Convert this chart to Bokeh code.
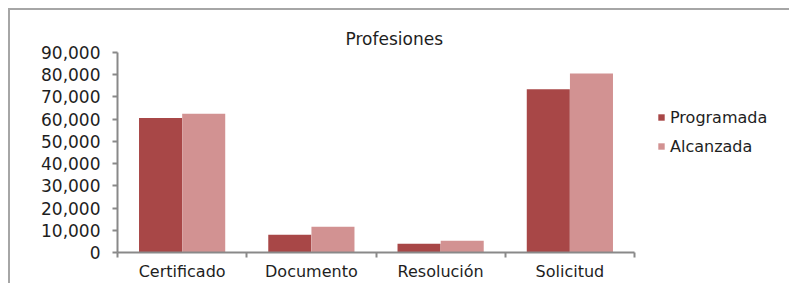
from bokeh.plotting import figure
from bokeh.models import (ColumnDataSource, FactorRange, Range1d, LinearAxis, Row,
                          FixedTicker, NumeralTickFormatter, Legend, LegendItem)
from bokeh.transform import dodge
from bokeh.embed import file_html
from bokeh.resources import INLINE

categories = ["Certificado", "Documento", "Resolución", "Solicitud"]
programada = [60500, 8000, 3900, 73500]
alcanzada = [62400, 11600, 5300, 80500]
y_ticks = [0, 10000, 20000, 30000, 40000, 50000, 60000, 70000, 80000, 90000]
series_names = ["Programada", "Alcanzada"]
title_text = "Profesiones"

FONT = "DejaVu Sans"
TXT = "#1e1e1e"
AXC = "#898989"
DARK = "#A84747"
LIGHT = "#D29292"

src = ColumnDataSource(dict(cats=categories, prog=programada, alc=alcanzada))
xr = FactorRange(*categories, range_padding=0)
yr = Range1d(0, 90000)

p = figure(x_range=xr, y_range=yr,
           width=634, height=273, output_backend="svg", toolbar_location=None,
           x_axis_location=None, title=title_text,
           min_border_left=107, min_border_right=10, min_border_top=42, min_border_bottom=29)
p.styles = {"flex-shrink": "0"}
p.xgrid.visible = False
p.ygrid.visible = False
p.outline_line_color = None
p.background_fill_color = "white"
p.border_fill_color = "white"

p.title.align = "left"
p.title.text_font = FONT
p.title.text_font_size = "17px"
p.title.text_font_style = "normal"
p.title.text_color = TXT
p.title.offset = 228
p.title.standoff = 7

p.vbar(x=dodge("cats", -0.167, range=xr), top="prog", width=0.333,
       source=src, fill_color=DARK, line_color=None)
p.vbar(x=dodge("cats", 0.167, range=xr), top="alc", width=0.333,
       source=src, fill_color=LIGHT, line_color=None)

# y axis
ya = p.yaxis[0]
ya.ticker = FixedTicker(ticks=y_ticks)
ya.formatter = NumeralTickFormatter(format="0,0")
ya.axis_line_color = AXC
ya.axis_line_width = 2
ya.major_tick_line_color = AXC
ya.major_tick_line_width = 2
ya.major_tick_in = 0
ya.major_tick_out = 5
ya.minor_tick_line_color = None
ya.major_label_standoff = 12
ya.major_label_text_font = FONT
ya.major_label_text_font_size = "17px"
ya.major_label_text_color = TXT

# x axis: labels at category centres, tick marks at category boundaries
centres = [i + 0.5 for i in range(len(categories))]
boundaries = list(range(len(categories) + 1))
xa = LinearAxis(ticker=FixedTicker(ticks=centres, minor_ticks=boundaries),
                major_label_overrides={c: name for c, name in zip(centres, categories)},
                major_label_standoff=9, major_label_text_font=FONT,
                major_label_text_font_size="16px", major_label_text_color=TXT,
                axis_line_color=AXC, axis_line_width=2,
                major_tick_line_color=None, major_tick_in=0, major_tick_out=0,
                minor_tick_line_color=AXC, minor_tick_line_width=2,
                minor_tick_in=-5, minor_tick_out=0)
p.add_layout(xa, "below")

# legend panel to the right of the chart
p2 = figure(x_range=xr, y_range=yr, width=147, height=273, output_backend="svg",
            toolbar_location=None, x_axis_location=None, y_axis_location=None,
            min_border=0)
p2.styles = {"flex-shrink": "0"}
p2.grid.visible = False
p2.outline_line_color = None
p2.background_fill_color = "white"
p2.border_fill_color = "white"
k1 = p2.vbar(x=dodge("cats", -0.167, range=xr), top="prog", width=0.333,
             source=src, fill_color=DARK, line_color=None, visible=False)
k2 = p2.vbar(x=dodge("cats", 0.167, range=xr), top="alc", width=0.333,
             source=src, fill_color=LIGHT, line_color=None, visible=False)
legend = Legend(items=[LegendItem(label=series_names[0], renderers=[k1]),
                       LegendItem(label=series_names[1], renderers=[k2])],
                location=(13, 96), orientation="vertical", padding=0, margin=0,
                spacing=9, glyph_width=8, glyph_height=8, label_height=20,
                label_standoff=5, label_text_font=FONT, label_text_font_size="16px",
                label_text_color=TXT, border_line_color=None, background_fill_alpha=0,
                inactive_fill_alpha=0)
p2.add_layout(legend, "center")

layout = Row(children=[p, p2],
             styles={"border-top": "2px solid #a6a6a6", "border-left": "2px solid #a6a6a6",
                     "margin-left": "8px", "margin-top": "8px",
                     "height": "275px", "width": "781px", "overflow": "hidden"})

open("out.html", "w").write(file_html(layout, INLINE))
